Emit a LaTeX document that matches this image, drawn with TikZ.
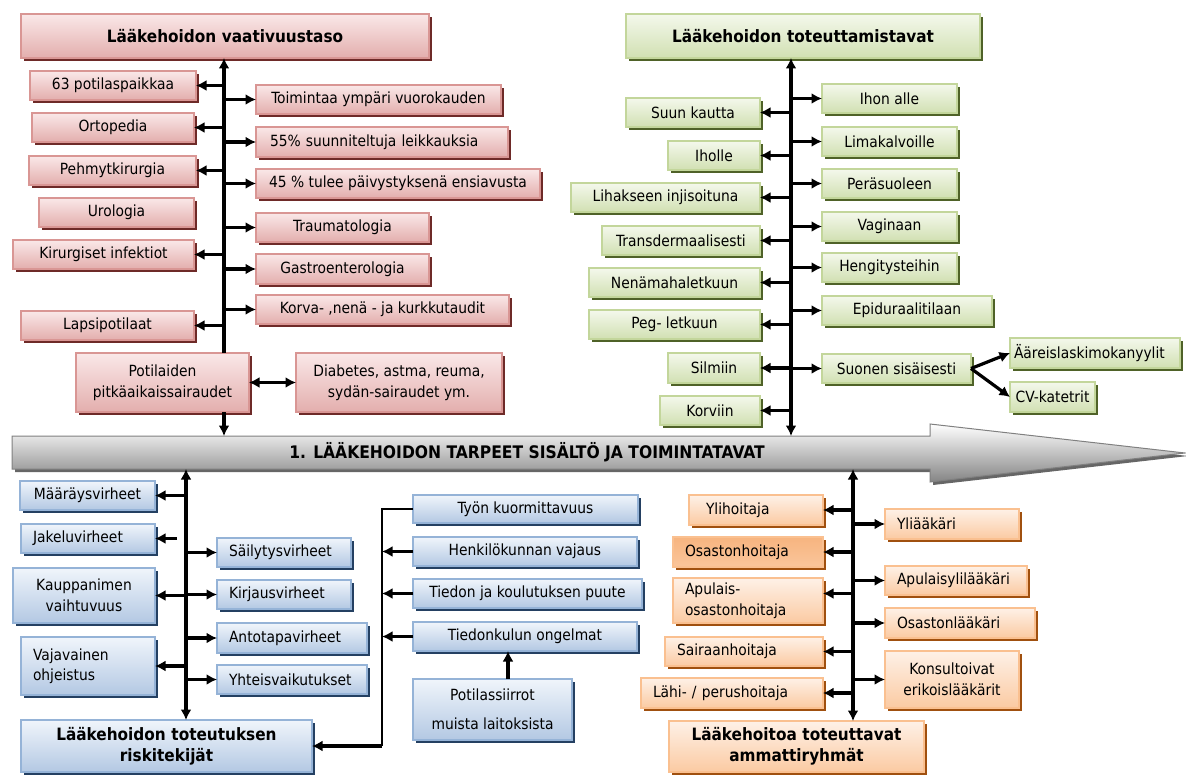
\documentclass[tikz,border=0pt]{standalone}
\usepackage{fontspec}
\setmainfont{DejaVu Sans Condensed}
\usetikzlibrary{arrows.meta,shadows,calc}

\definecolor{pinkline}{HTML}{D99694}
\definecolor{pinktop}{HTML}{FAE8E8}
\definecolor{pinkbot}{HTML}{E3AEAD}
\definecolor{pinkshade}{HTML}{6E2A28}
\definecolor{greenline}{HTML}{C3D69B}
\definecolor{greentop}{HTML}{F4F8EC}
\definecolor{greenbot}{HTML}{D1E0B2}
\definecolor{greenshade}{HTML}{4F6228}
\definecolor{blueline}{HTML}{95B3D7}
\definecolor{bluetop}{HTML}{F0F5FB}
\definecolor{bluebot}{HTML}{B3C8E3}
\definecolor{blueshade}{HTML}{244062}
\definecolor{orangeline}{HTML}{FAC090}
\definecolor{orangetop}{HTML}{FEF1E7}
\definecolor{orangebot}{HTML}{FBCAA2}
\definecolor{orangeshade}{HTML}{A0500F}
\definecolor{orangestrong}{HTML}{F7B47F}

\newcommand\regfont{\fontsize{15.4}{20.5}\selectfont}
\newcommand\ttlfont{\fontsize{17}{21}\selectfont\bfseries}

% \boxnode[options]{style}{name}{x1}{y1}{x2}{y2}{text}
\newcommand\boxnode[8][]{%
  \pgfmathsetmacro\bxw{#6-#4}%
  \pgfmathsetmacro\bxh{#7-#5}%
  \pgfmathsetmacro\bxtw{#6-#4-24}%
  \node[#2, minimum width=\bxw pt, minimum height=\bxh pt, #1] (#3) at ({(#4+#6)/2},{(#5+#7)/2}) {#8};}

\tikzset{
  every node/.style={font=\regfont, text=black},
  box/.style={draw, line width=1.2pt, inner sep=0pt, outer sep=0pt, align=center},
  pinkbox/.style={box, draw=pinkline, top color=pinktop, bottom color=pinkbot,
    drop shadow={shadow xshift=3pt, shadow yshift=-3pt, fill=pinkshade, opacity=1}},
  greenbox/.style={box, draw=greenline, top color=greentop, bottom color=greenbot,
    drop shadow={shadow xshift=3pt, shadow yshift=-3pt, fill=greenshade, opacity=1}},
  bluebox/.style={box, draw=blueline, top color=bluetop, bottom color=bluebot,
    drop shadow={shadow xshift=3pt, shadow yshift=-3pt, fill=blueshade, opacity=1}},
  orangebox/.style={box, draw=orangeline, top color=orangetop, bottom color=orangebot,
    drop shadow={shadow xshift=3pt, shadow yshift=-3pt, fill=orangeshade, opacity=1}},
  ttl/.style={font=\ttlfont, text width=\bxtw pt, align=center},
  lt/.style={align=left, text width=\bxtw pt},
  tip/.tip={Latex[length=10.5pt,width=11pt]},
  spine/.style={line width=3.6pt},
  branch/.style={line width=3.2pt, -tip},
  loopline/.style={line width=2.4pt},
}

\begin{document}
\begin{tikzpicture}[x=1pt,y=-1pt]
\useasboundingbox (0,0) rectangle (1186,776);
\fill[white] (0,0) rectangle (1186,776);

% ---------- central arrow ----------
\path[draw=black!50, line width=1pt, top color=white, bottom color=black!48,
  drop shadow={shadow xshift=3pt, shadow yshift=-3pt, fill=black!60, opacity=1}]
  (12,436) -- (930,436) -- (930,424) -- (1185,453) -- (930,482) -- (930,469) -- (12,469) -- cycle;
\node[font=\fontsize{17.3}{21}\selectfont\bfseries] (mainarrow) at (527,452) {1. LÄÄKEHOIDON TARPEET SISÄLTÖ JA TOIMINTATAVAT};
\coordinate (atop) at (0,436);
\coordinate (abot) at (0,469);

% ---------- level of medication care ----------
\boxnode[ttl]{pinkbox}{tlttl}{21}{14}{429}{58}{Lääkehoidon vaativuustaso}
\boxnode{pinkbox}{p63}{30}{71}{196}{100}{63 potilaspaikkaa}
\boxnode{pinkbox}{ptoim}{256}{85}{501}{114}{Toimintaa ympäri vuorokauden}
\boxnode{pinkbox}{port}{32}{113}{194}{142}{Ortopedia}
\boxnode[lt,text width=224pt]{pinkbox}{p55}{256}{127}{508}{157}{55\% suunniteltuja leikkauksia}
\boxnode{pinkbox}{pehm}{29}{156}{196}{185}{Pehmytkirurgia}
\boxnode{pinkbox}{p45}{256}{169}{540}{198}{45 \% tulee päivystyksenä ensiavusta}
\boxnode{pinkbox}{puro}{39}{198}{194}{227}{Urologia}
\boxnode{pinkbox}{ptrau}{256}{213}{429}{242}{Traumatologia}
\boxnode{pinkbox}{pkir}{13}{240}{194}{269}{Kirurgiset infektiot}
\boxnode{pinkbox}{pgas}{256}{254}{429}{284}{Gastroenterologia}
\boxnode{pinkbox}{pkor}{256}{295}{509}{324}{Korva- ,nenä - ja kurkkutaudit}
\boxnode{pinkbox}{plap}{21}{311}{194}{340}{Lapsipotilaat}
\boxnode{pinkbox}{ppot}{76}{353}{249}{412}{Potilaiden\\pitkäaikaissairaudet}
\boxnode{pinkbox}{pdia}{296}{353}{502}{412}{Diabetes, astma, reuma,\\sydän-sairaudet ym.}

\coordinate (tlx) at (224,0);
\draw[spine,-tip] (tlx |- ppot.north) -- (tlx |- tlttl.south);
\draw[spine,-tip] (tlx |- ppot.south) -- (tlx |- atop);
\foreach \b in {p63,port,pehm,pkir,plap} \draw[branch] (tlx |- \b.east) -- (\b.east);
\foreach \b in {ptoim,p55,p45,ptrau,pgas,pkor} \draw[branch] (tlx |- \b.west) -- (\b.west);
\draw[branch,tip-tip] (ppot) -- (pdia);

% ---------- routes of administration ----------
\boxnode[ttl]{greenbox}{trttl}{626}{14}{980}{58}{Lääkehoidon toteuttamistavat}
\boxnode{greenbox}{gihon}{822}{84}{957}{113}{Ihon alle}
\boxnode{greenbox}{gsuu}{626}{98}{760}{127}{Suun kautta}
\boxnode{greenbox}{glima}{822}{127}{957}{156}{Limakalvoille}
\boxnode{greenbox}{gihol}{668}{141}{760}{170}{Iholle}
\boxnode{greenbox}{gpera}{822}{169}{957}{198}{Peräsuoleen}
\boxnode{greenbox}{gliha}{571}{183}{760}{212}{Lihakseen injisoituna}
\boxnode{greenbox}{gvag}{822}{212}{957}{241}{Vaginaan}
\boxnode{greenbox}{gtra}{602}{226}{760}{255}{Transdermaalisesti}
\boxnode{greenbox}{gheng}{822}{253}{957}{282}{Hengitysteihin}
\boxnode{greenbox}{gnen}{589}{268}{760}{297}{Nenämahaletkuun}
\boxnode{greenbox}{gepi}{822}{296}{992}{325}{Epiduraalitilaan}
\boxnode{greenbox}{gpeg}{589}{310}{760}{339}{Peg- letkuun}
\boxnode{greenbox}{gsil}{668}{353}{760}{383}{Silmiin}
\boxnode{greenbox}{gsuo}{822}{354}{971}{383}{Suonen sisäisesti}
\boxnode[lt,text width=162pt]{greenbox}{gaar}{1010}{338}{1180}{368}{Ääreislaskimokanyylit}
\boxnode{greenbox}{gcv}{1010}{382}{1095}{412}{CV-katetrit}
\boxnode{greenbox}{gkor}{660}{396}{760}{425}{Korviin}

\coordinate (trx) at (791,0);
\draw[spine,tip-tip] (trx |- trttl.south) -- (trx |- atop);
\foreach \b in {gsuu,gihol,gliha,gtra,gnen,gpeg,gsil,gkor} \draw[branch] (trx |- \b.east) -- (\b.east);
\foreach \b in {gihon,glima,gpera,gvag,gheng,gepi,gsuo} \draw[branch] (trx |- \b.west) -- (\b.west);
\draw[branch] (gsuo.east) -- (gaar.west);
\draw[branch] (gsuo.east) -- (gcv.west);

% ---------- risk factors ----------
\boxnode[ttl]{bluebox}{blttl}{21}{720}{312}{772}{Lääkehoidon toteutuksen\\riskitekijät}
\boxnode{bluebox}{bmaa}{20}{481}{155}{510}{Määräysvirheet}
\boxnode[lt]{bluebox}{bjak}{21}{524}{155}{553}{Jakeluvirheet}
\boxnode[lt]{bluebox}{bsai}{217}{538}{351}{567}{Säilytysvirheet}
\boxnode{bluebox}{bkau}{13}{568}{155}{623}{Kauppanimen\\vaihtuvuus}
\boxnode[lt]{bluebox}{bkir}{217}{580}{351}{609}{Kirjausvirheet}
\boxnode[lt]{bluebox}{bant}{217}{623}{367}{653}{Antotapavirheet}
\boxnode[lt]{bluebox}{bvaj}{21}{637}{155}{695}{Vajavainen\\ohjeistus}
\boxnode[lt]{bluebox}{byht}{217}{665}{367}{694}{Yhteisvaikutukset}
\boxnode{bluebox}{btyo}{413}{495}{638}{523}{Työn kuormittavuus}
\boxnode{bluebox}{bhen}{413}{537}{637}{566}{Henkilökunnan vajaus}
\boxnode{bluebox}{btie}{413}{579}{642}{608}{Tiedon ja koulutuksen puute}
\boxnode{bluebox}{btik}{413}{622}{637}{651}{Tiedonkulun ongelmat}
\boxnode{bluebox}{bpot}{413}{679}{572}{740}{Potilassiirrot\\[8pt]muista laitoksista}

\coordinate (blx) at (186,0);
\coordinate (jakx) at (177,0);
\draw[spine,tip-tip] (blx |- abot) -- (blx |- blttl.north);
\foreach \b in {bmaa,bkau,bvaj} \draw[branch] (blx |- \b.east) -- (\b.east);
\draw[branch] (jakx |- bjak.east) -- (bjak.east);
\foreach \b in {bsai,bkir,bant,byht} \draw[branch] (blx |- \b.west) -- (\b.west);

\coordinate (lpx) at (382,0);
\draw[loopline] (btyo.west) -- (lpx |- btyo.west) -- (lpx |- blttl.east);
\draw[branch] (lpx |- blttl.east) -- (blttl.east);
\foreach \b in {bhen,btie,btik} \draw[branch] (\b.west) -- (lpx |- \b.west);
\coordinate (psx) at (508,0);
\draw[branch] (psx |- bpot.north) -- (psx |- btik.south);

% ---------- professional groups ----------
\boxnode[ttl]{orangebox}{brttl}{669}{721}{924}{772}{Lääkehoitoa toteuttavat\\ammattiryhmät}
\boxnode[lt,text width=100pt]{orangebox}{oyli}{689}{495}{823}{525}{Ylihoitaja}
\boxnode[lt]{orangebox}{oyla}{885}{509}{1019}{539}{Yliääkäri}
\boxnode[lt,top color=orangestrong,bottom color=orangebot!80!orangestrong]{orangebox}{oosa}{673}{537}{823}{567}{Osastonhoitaja}
\boxnode[lt]{orangebox}{oapy}{885}{566}{1027}{595}{Apulaisylilääkäri}
\boxnode[lt]{orangebox}{oapo}{673}{578}{823}{623}{Apulais-\\osastonhoitaja}
\boxnode[lt]{orangebox}{oosl}{885}{608}{1035}{638}{Osastonlääkäri}
\boxnode[lt]{orangebox}{osai}{665}{637}{823}{666}{Sairaanhoitaja}
\boxnode{orangebox}{okon}{885}{651}{1019}{708}{Konsultoivat\\erikoislääkärit}
\boxnode[lt]{orangebox}{olah}{641}{678}{823}{708}{Lähi- / perushoitaja}

\coordinate (brx) at (853,0);
\coordinate (oapoc) at ([yshift=7pt]oapo.east);
\draw[spine,tip-tip] (brx |- abot) -- (brx |- brttl.north);
\foreach \b in {oyli,oosa,osai,olah} \draw[branch] (brx |- \b.east) -- (\b.east);
\draw[branch] (brx |- oapoc) -- (oapoc);
\foreach \b in {oyla,oapy,oosl,okon} \draw[branch] (brx |- \b.west) -- (\b.west);
\end{tikzpicture}
\end{document}
